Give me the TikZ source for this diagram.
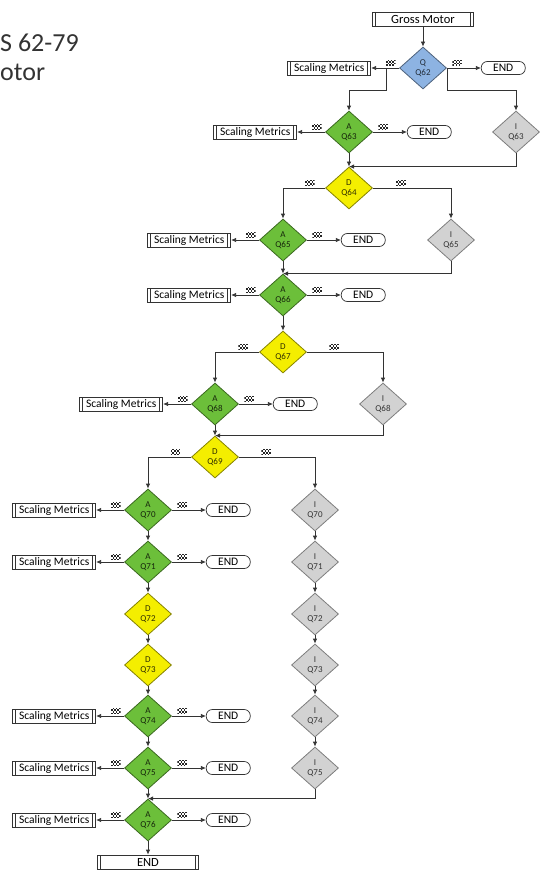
\documentclass[tikz,border=0pt]{standalone}
\usepackage{fontspec}
\setmainfont{Carlito}
\usetikzlibrary{arrows.meta,positioning,shapes.geometric}
\definecolor{qblue}{HTML}{8DB3E2}
\definecolor{qgreen}{HTML}{6CBF3A}
\definecolor{qyellow}{HTML}{F4EE00}
\definecolor{qgray}{HTML}{D2D2D2}

\begin{document}
\begin{tikzpicture}[x=1pt, y=-1pt, >={Latex[length=5pt,width=4.5pt]},
  dia/.style={draw, diamond, aspect=1, minimum width=47pt, minimum height=42pt, inner sep=0pt, align=center, line width=0.8pt, font=\fontsize{9}{9.5}\selectfont},
  qq/.style={dia, fill=qblue, draw=qblue!55!black, text=qblue!25!black},
  qa/.style={dia, fill=qgreen, draw=qgreen!55!black, text=qgreen!20!black},
  qd/.style={dia, fill=qyellow, draw=qyellow!55!black, text=qyellow!20!black},
  qi/.style={dia, fill=qgray, draw=qgray!60!black, text=qgray!25!black},
  pp/.style={draw=black!80, rectangle, minimum height=14pt, inner sep=1pt, line width=0.7pt,
    path picture={\draw[black!80, line width=0.6pt]
      ([xshift=3pt]path picture bounding box.north west) -- ([xshift=3pt]path picture bounding box.south west)
      ([xshift=-3pt]path picture bounding box.north east) -- ([xshift=-3pt]path picture bounding box.south east);}},
  sm/.style={pp, minimum width=83pt, font=\fontsize{11.5}{12}\selectfont},
  proc/.style={pp, minimum width=101pt, font=\fontsize{12.5}{13}\selectfont},
  term/.style={draw=black!80, line width=0.7pt, rounded corners=6pt, minimum width=44pt, minimum height=13pt, inner sep=1pt, font=\fontsize{11.5}{12}\selectfont},
  chk/.style={minimum width=9.6pt, minimum height=6.4pt, inner sep=0pt,
    path picture={\foreach \i in {0,...,5} \foreach \j in {0,...,3}{
      \ifodd\numexpr\i+\j\relax\else
        \fill[black!85] ([xshift=\i*1.6pt, yshift=\j*1.6pt]path picture bounding box.south west) rectangle ++(1.6pt,1.6pt);
      \fi}}},
  conn/.style={draw=black!80, line width=0.8pt}]
  \useasboundingbox (0,0) rectangle (540,875);

  \node[anchor=base west, inner sep=0pt, text=black!80, font=\fontsize{26}{28}\selectfont] (title) at (0,52) {S 62-79};
  \node[anchor=base west, inner sep=0pt, text=black!80, font=\fontsize{26}{28}\selectfont] (subtitle) at (0,81) {otor};

  \node[proc] (gross) at (423,19) {Gross Motor};
  \node[qq] (q62) at (423,68) {Q\\Q62};
  \node[qa] (q63) at (349,132) {A\\Q63};
  \node[qi] (i63) at (516,132) {I\\Q63};
  \node[qd] (q64) at (349,188) {D\\Q64};
  \node[qa] (q65) at (283,240) {A\\Q65};
  \node[qi] (i65) at (451,240) {I\\Q65};
  \node[qa] (q66) at (283,295) {A\\Q66};
  \node[qd] (q67) at (283,352) {D\\Q67};
  \node[qa] (q68) at (215,404) {A\\Q68};
  \node[qi] (i68) at (383,404) {I\\Q68};
  \node[qd] (q69) at (215,457) {D\\Q69};
  \node[qa] (q70) at (148,510) {A\\Q70};
  \node[qi] (i70) at (315,510) {I\\Q70};
  \node[qa] (q71) at (148,562) {A\\Q71};
  \node[qi] (i71) at (315,562) {I\\Q71};
  \node[qd] (q72) at (148,614) {D\\Q72};
  \node[qi] (i72) at (315,614) {I\\Q72};
  \node[qd] (q73) at (148,665) {D\\Q73};
  \node[qi] (i73) at (315,665) {I\\Q73};
  \node[qa] (q74) at (148,716) {A\\Q74};
  \node[qi] (i74) at (315,716) {I\\Q74};
  \node[qa] (q75) at (148,768) {A\\Q75};
  \node[qi] (i75) at (315,768) {I\\Q75};
  \node[qa] (q76) at (148,820) {A\\Q76};
  \node[proc] (fin) at (148,862) {END};

  \foreach \q in {62,63,65,66,68,70,71,74,75,76}{
    \node[sm, left=28pt of q\q] (sm\q) {Scaling Metrics};
    \node[term, right=34pt of q\q] (end\q) {END};
    \draw[conn,->] (q\q) -- node[chk, above=1.5pt, pos=0.3]{} (sm\q);
    \draw[conn,->] (q\q) -- node[chk, above=1.5pt, pos=0.3]{} (end\q);
  }

  \draw[conn,->] (gross) -- (q62);
  \draw[conn,->] (q62.west) ++(-13,0) -- ++(0,22) -| (q63.north);
  \draw[conn,->] (q62.east) -- ++(0,22) -| (i63.north);

  \foreach \a/\b in {63/64,65/66,66/67,68/69,70/71,71/72,72/73,73/74,74/75,75/76}
    \draw[conn,->] (q\a) -- (q\b);
  \draw[conn,->] (q76) -- (fin);

  \foreach \a/\b in {70/71,71/72,72/73,73/74,74/75}
    \draw[conn,->] (i\a) -- (i\b);

  \draw[conn,->] (i63.south) |- (q64.north);
  \draw[conn,->] (i65.south) |- (q66.north);
  \draw[conn,->] (i68.south) |- (q69.north);
  \draw[conn,->] (i75.south) |- (q76.north);

  \draw[conn,->] (q64.west) -| node[chk, above=1.5pt, pos=0.18]{} (q65.north);
  \draw[conn,->] (q64.east) -| node[chk, above=1.5pt, pos=0.18]{} (i65.north);
  \draw[conn,->] (q67.west) -| node[chk, above=1.5pt, pos=0.18]{} (q68.north);
  \draw[conn,->] (q67.east) -| node[chk, above=1.5pt, pos=0.18]{} (i68.north);
  \draw[conn,->] (q69.west) -| node[chk, above=1.5pt, pos=0.18]{} (q70.north);
  \draw[conn,->] (q69.east) -| node[chk, above=1.5pt, pos=0.18]{} (i70.north);
\end{tikzpicture}
\end{document}
